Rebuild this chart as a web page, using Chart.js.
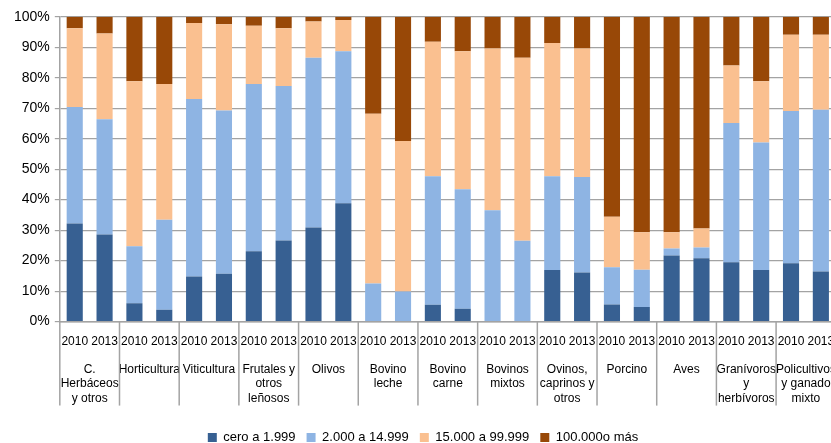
<!DOCTYPE html>
<html>
<head>
<meta charset="utf-8">
<script src="https://cdn.jsdelivr.net/npm/chart.js@4/dist/chart.umd.min.js"></script>
<style>
  html, body { margin: 0; padding: 0; background: #fff; overflow: hidden; }
  #wrap { width: 837px; height: 443px; }
</style>
</head>
<body>
<div id="wrap"><canvas id="chart" width="837" height="443"></canvas></div>
<script>
// years under each bar
const years = ['2010', '2013', '2010', '2013', '2010', '2013', '2010', '2013', '2010', '2013', '2010', '2013', '2010', '2013',
               '2010', '2013', '2010', '2013', '2010', '2013', '2010', '2013', '2010', '2013', '2010', '2013'];

// orientación técnico-económica (group labels)
const groups = [
    ['C.', 'Herbáceos', 'y otros'], ['Horticultura'], ['Viticultura'], ['Frutales y', 'otros', 'leñosos'],
    ['Olivos'], ['Bovino', 'leche'], ['Bovino', 'carne'], ['Bovinos', 'mixtos'], ['Ovinos,', 'caprinos y', 'otros'],
    ['Porcino'], ['Aves'], ['Granívoros', 'y', 'herbívoros'], ['Policultivos', 'y ganado', 'mixto']
];

// % of farms by economic size
const cero = [32.2, 28.6, 6.0, 3.9, 14.8, 15.7, 23.1, 26.6, 30.9, 38.8, 0, 0, 5.5, 4.2, 0, 0, 16.9, 16.1, 5.6, 4.8, 21.7, 20.8, 19.5, 16.9, 19.1, 16.4];
const dosMil = [38.2, 37.8, 18.7, 29.5, 58.2, 53.5, 54.8, 50.7, 55.6, 49.9, 12.5, 9.9, 42.2, 39.2, 36.5, 26.5, 30.8, 31.3, 12.2, 12.2, 2.3, 3.5, 45.6, 41.8, 50.0, 53.1];
const quinceMil = [25.8, 28.1, 54.1, 44.5, 24.9, 28.3, 19.1, 18.9, 11.9, 10.2, 55.7, 49.3, 44.1, 45.3, 53.1, 60.0, 43.7, 42.2, 16.6, 12.3, 5.3, 6.2, 18.9, 20.1, 25.0, 24.6];
const cienMil = [3.8, 5.5, 21.2, 22.1, 2.1, 2.5, 3.0, 3.8, 1.6, 1.1, 31.8, 40.8, 8.2, 11.3, 10.4, 13.5, 8.6, 10.4, 65.6, 70.7, 70.7, 69.5, 16.0, 21.2, 5.9, 5.9];

const seriesNames = ['cero a 1.999', '2.000 a 14.999', '15.000 a 99.999', '100.000o más'];
const seriesColors = ['#376092', '#8EB4E3', '#FAC090', '#984807'];

const gridGrey = '#a3a3a3';
const font = 'Liberation Sans, Arial, sans-serif';

// vertical separators between the groups, running through both label rows
const groupLines = {
    id: 'groupLines',
    afterDraw(chart) {
        const x2 = chart.scales.x2;
        const c = chart.ctx;
        const top = chart.chartArea.bottom;
        const half = (x2.getPixelForValue(1) - x2.getPixelForValue(0)) / 2;
        c.save();
        c.strokeStyle = gridGrey;
        c.lineWidth = 1.5;
        for (let i = 0; i <= groups.length; i++) {
            const px = i < groups.length ? x2.getPixelForValue(i) - half : x2.getPixelForValue(i - 1) + half;
            c.beginPath();
            c.moveTo(px, top);
            c.lineTo(px, top + 84);
            c.stroke();
        }
        c.restore();
    }
};

let ctx = document.getElementById('chart').getContext('2d');
let chart = new Chart(ctx, {
    type: 'bar',
    data: {
        labels: years,
        datasets: [cero, dosMil, quinceMil, cienMil].map((d, i) => ({
            label: seriesNames[i],
            data: d,
            backgroundColor: seriesColors[i],
            borderWidth: 0,
            barPercentage: 0.54,
            categoryPercentage: 1.0
        }))
    },
    plugins: [groupLines],
    options: {
        responsive: false,
        animation: false,
        layout: { padding: { left: 9, right: 0, top: 16.7, bottom: -11 } },
        plugins: {
            tooltip: { enabled: false },
            legend: {
                position: 'bottom',
                labels: {
                    boxWidth: 9, boxHeight: 9, padding: 11,
                    color: '#000',
                    font: { family: font, size: 13 }
                }
            }
        },
        scales: {
            x: {
                stacked: true,
                weight: 0,
                border: { display: true, color: gridGrey, width: 1.5 },
                grid: { display: false, drawTicks: true, tickLength: 10.5 },
                ticks: {
                    padding: 2, maxRotation: 0, autoSkip: false,
                    color: '#000', font: { family: font, size: 12 }
                }
            },
            x2: {
                type: 'category',
                labels: groups,
                position: 'bottom',
                weight: 1,
                offset: true,
                border: { display: false },
                grid: { display: false, drawTicks: true, tickLength: 11 },
                ticks: {
                    padding: 1, maxRotation: 0, autoSkip: false,
                    color: '#000', font: { family: font, size: 12, lineHeight: 1.2 }
                },
                afterFit: s => { s.height = 69.5; }
            },
            y: {
                stacked: true,
                min: 0, max: 100,
                border: { display: true, color: gridGrey, width: 1.5 },
                grid: { color: gridGrey, lineWidth: 1.2, tickLength: 5 },
                ticks: {
                    stepSize: 10, padding: 5,
                    color: '#000', font: { family: font, size: 14 },
                    callback: v => v + '%'
                }
            }
        }
    }
});
</script>
</body>
</html>
